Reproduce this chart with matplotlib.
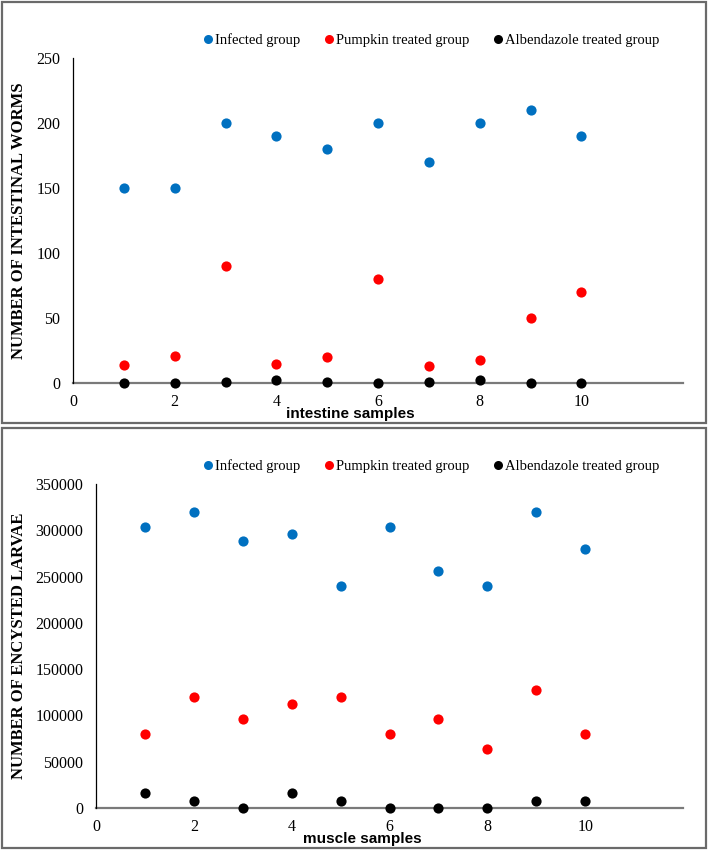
import matplotlib
matplotlib.use("Agg")
import matplotlib.pyplot as plt
from matplotlib.patches import Rectangle
from matplotlib.lines import Line2D

samples = [1, 2, 3, 4, 5, 6, 7, 8, 9, 10]
series_names = ["Infected group", "Pumpkin treated group", "Albendazole treated group"]
colors = ["#0070C0", "#FF0000", "#000000"]

worm_infected = [150, 150, 200, 190, 180, 200, 170, 200, 210, 190]
worm_pumpkin = [14, 21, 90, 15, 20, 80, 13, 18, 50, 70]
worm_albendazole = [0, 0, 1, 2, 1, 0, 1, 2, 0, 0]

larvae_infected = [304000, 320000, 288000, 296000, 240000, 304000, 256000, 240000, 320000, 280000]
larvae_pumpkin = [80000, 120000, 96000, 112000, 120000, 80000, 96000, 64000, 128000, 80000]
larvae_albendazole = [16000, 8000, 0, 16000, 8000, 0, 0, 0, 8000, 8000]

x_ticks = [0, 2, 4, 6, 8, 10]
worm_yticks = [0, 50, 100, 150, 200, 250]
larvae_yticks = [0, 50000, 100000, 150000, 200000, 250000, 300000, 350000]

W, H = 708, 850
fig = plt.figure(figsize=(W / 100, H / 100), dpi=100)

serif = ["Liberation Serif", "DejaVu Serif"]
sans = ["Liberation Sans", "DejaVu Sans"]

# panel borders
for (y0, y1) in [(2, 423), (428, 848)]:
    fig.patches.append(Rectangle((2 / W, 1 - y1 / H), 704 / W, (y1 - y0) / H,
                                 transform=fig.transFigure, fill=False,
                                 edgecolor="#6a6a6a", linewidth=1.6))


def panel(rect_px, data, yticks, ylim, ylabel, xlabel, xlabel_pos, legend_y):
    x0, x1, ytop, ybot = rect_px
    rect = [x0 / W, 1 - ybot / H, (x1 - x0) / W, (ybot - ytop) / H]
    ax = fig.add_axes(rect)
    for vals, c, name in zip(data, colors, series_names):
        ax.scatter(samples, vals, s=54, color=c, zorder=3, label=name, linewidths=0,
                   clip_on=False)
    ax.set_xlim(0, 12)
    ax.set_ylim(*ylim)
    ax.set_xticks(x_ticks)
    ax.set_yticks(yticks)
    ax.set_xticklabels([str(t) for t in x_ticks], fontfamily=serif, fontsize=11.5)
    ax.set_yticklabels([str(t) for t in yticks], fontfamily=serif, fontsize=11.5)
    ax.tick_params(length=0)
    ax.tick_params(axis="y", pad=9)
    ax.tick_params(axis="x", pad=8)
    for s in ["top", "right"]:
        ax.spines[s].set_visible(False)
    ax.spines["left"].set_color("#000000")
    ax.spines["left"].set_linewidth(0.9)
    ax.spines["bottom"].set_color("#7a7a7a")
    ax.spines["bottom"].set_linewidth(1.6)
    ax.spines["bottom"].set_zorder(1)
    ax.set_ylabel(ylabel, fontfamily=serif, fontweight="bold", fontsize=12)
    ax.yaxis.set_label_coords((27 / W - rect[0]) / rect[2], 0.5)
    fig.text(xlabel_pos[0] / W, 1 - xlabel_pos[1] / H, xlabel, ha="center", va="center",
             fontfamily=sans, fontweight="bold", fontsize=11)
    handles = [Line2D([], [], marker="o", linestyle="", markersize=6.5,
                      markerfacecolor=c, markeredgewidth=0) for c in colors]
    fig.legend(handles, series_names, loc="center", bbox_to_anchor=(432 / W, 1 - legend_y / H),
               ncol=3, frameon=False, prop={"family": serif, "size": 10.5},
               handlelength=0.5, handletextpad=0.25, columnspacing=1.7,
               borderpad=0, borderaxespad=0)
    return ax


panel((73, 683, 58, 383),
      [worm_infected, worm_pumpkin, worm_albendazole], worm_yticks, (0, 250),
      "NUMBER OF INTESTINAL WORMS", "intestine samples", (350, 414), 40)

panel((96, 683, 484, 808),
      [larvae_infected, larvae_pumpkin, larvae_albendazole], larvae_yticks, (0, 350000),
      "NUMBER OF ENCYSTED LARVAE", "muscle samples", (362, 839), 466)

fig.savefig("out.png", dpi=100)
